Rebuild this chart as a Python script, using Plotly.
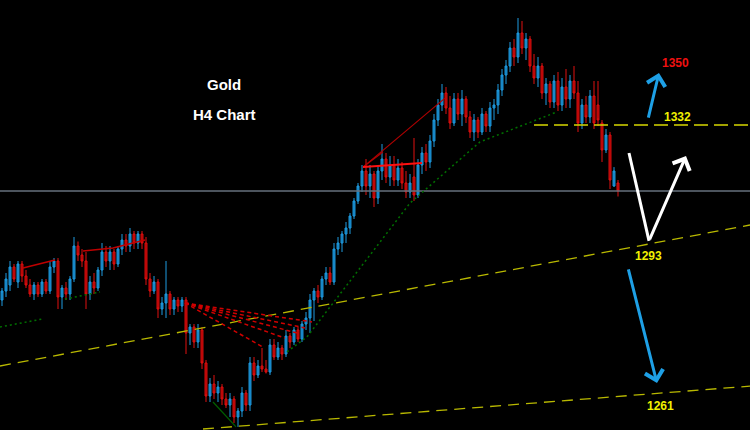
import plotly.graph_objects as go

# ---- candle data (index, price) ----
opens = [1275,1278,1280,1286,1281,1287,1283,1280,1277,1280,1277,1281,1278,1286,1288,1276,1279,1277,1282,1293,
         1290,1288,1277,1281,1279,1285,1291,1288,1291,1287,1292,1295,1293,1297,1294,1297,1294,1282,1278,1281,
         1272,1274,1277,1272,1275,1273,1275,1264,1266,1261,1265,1254,1243,1247,1244,1246,1242,1240,1242,1236,
         1238,1244,1240,1254,1250,1253,1252,1251,1260,1256,1259,1257,1263,1261,1265,1262,1267,1269,1275,1278,
         1276,1282,1284,1281,1292,1294,1297,1299,1303,1308,1313,1318,1313,1317,1309,1318,1322,1316,1320,1315,
         1319,1314,1311,1316,1310,1320,1324,1321,1328,1335,1340,1344,1339,1334,1342,1337,1342,1336,1331,1335,
         1331,1337,1333,1339,1340,1345,1350,1353,1359,1356,1364,1359,1362,1353,1349,1353,1344,1347,1341,1348,
         1340,1346,1342,1348,1344,1334,1340,1336,1343,1340,1334,1325,1330,1313,1314]
highs = [1279,1284,1288,1287,1288,1288,1285,1282,1281,1281,1282,1282,1288,1289,1289,1280,1281,1283,1296,1294.5,
         1292,1291,1283,1284,1286,1294,1293,1293,1292,1293,1297,1297,1299,1298,1298,1298,1296,1284,1283,1282,
         1276,1288,1278,1276,1276,1276,1276,1267,1267,1267,1266,1255,1249,1250,1248,1247,1244,1244,1243,1239,
         1246,1245,1256,1256,1255,1259,1255,1262,1262,1261,1260,1265,1264,1266,1266,1268,1271,1277,1279,1280,
         1283,1286,1286,1294,1296,1298,1301,1304,1309,1314,1320,1322,1320,1318,1320,1327,1324,1323,1323,1322,
         1321,1318,1317,1329,1322,1326,1327,1330,1337,1342,1347,1346,1343,1344,1344,1345,1343,1338,1337,1336,
         1339,1338,1341,1342,1347,1352,1355,1361,1362,1369,1368,1364,1363,1357,1356,1354,1349,1348,1350,1351,
         1349,1352,1350,1353,1348,1342,1343,1345,1348,1348,1335,1332,1331,1319.3,1315]
lows = [1273,1276,1278,1281,1279,1281,1279,1276,1275,1276,1276,1277,1277,1284,1272,1272,1275,1275,1281,1288,
        1286,1272,1275,1277,1278,1283,1286,1285,1285,1286,1290,1291,1291,1292,1292,1292,1280,1276,1277,1269,
        1270,1269,1270,1270,1271,1271,1257,1260,1259,1259,1252,1241,1241,1242,1241,1240,1239,1236,1234,1232.7,
        1236,1238,1238,1248,1249,1251,1250.5,1250,1255,1255,1255,1256,1259,1260,1261,1261,1265,1264,1268,1274,
        1275,1280,1280,1280,1290,1291,1294,1297,1302,1307,1311,1310,1309,1306,1307,1315,1314,1313,1313,1313,
        1312,1309,1309,1308,1309,1317,1318,1319,1326,1333,1338,1337,1332,1333,1335,1333,1334,1329,1328,1329,
        1330,1331,1331,1335,1337,1343,1347,1351,1353,1354,1357,1355,1351,1347,1346,1342,1340,1339,1339,1338,
        1338,1339,1339,1342,1331,1332,1334,1334,1332,1333,1321,1324,1312,1312.7,1309.5]
closes = [1278,1282,1286,1282,1287,1283,1280,1277,1280,1277,1281,1278,1286,1288,1276,1279,1277,1282,1293,1290,
          1288,1277,1281,1279,1285,1291,1288,1291,1287,1292,1295,1293,1297,1294,1297,1294,1282,1278,1281,1272,
          1274,1277,1272,1275,1273,1275,1264,1266,1261,1265,1254,1243,1247,1244,1246,1242,1240,1242,1236,1238,
          1244,1240,1254,1250,1253,1252,1251,1260,1256,1259,1257,1263,1261,1265,1262,1267,1269,1275,1278,1276,
          1282,1284,1281,1292,1294,1297,1299,1303,1308,1313,1318,1313,1317,1309,1318,1322,1316,1320,1315,1319,
          1314,1311,1314,1310,1320,1324,1321,1328,1335,1340,1344,1339,1334,1342,1337,1342,1336,1331,1335,1331,
          1337,1333,1339,1340,1345,1350,1353,1359,1356,1364,1359,1362,1353,1349,1353,1344,1347,1341,1348,1340,
          1346,1342,1348,1344,1334,1340,1336,1343,1334,1335,1325,1330,1315,1318,1311.3]
bar_index = list(range(len(closes)))

# ---- drawn lines ----
current_price = 1311.3
level_1332_x = [133, 187]
level_1332_y = [1333.3, 1333.3]
trend_mid_x = [-0.5, 187]
trend_mid_y = [1253.0, 1300.0]
trend_low_x = [50.25, 187]
trend_low_y = [1232.0, 1246.3]

green_a_x = [-0.5, 10.25]
green_a_y = [1266.0, 1268.7]
green_b_x = [15.75, 24.5]
green_b_y = [1275.3, 1277.7]
green_c_x = [52.75, 58.5]
green_c_y = [1241.0, 1232.7]
green_d_x = [71.25, 76.25, 102, 119.5, 138.75]
green_d_y = [1257.7, 1262.7, 1307.3, 1327.7, 1337.7]

red_a_x = [5.25, 13.25]
red_a_y = [1285.7, 1288.3]
red_b_x = [20.25, 27.75, 35.75]
red_b_y = [1291.3, 1292.3, 1295.0]
fan_origin = (45.75, 1274.0)
fan_end_x = [65.25, 70.75, 73.75, 75.75, 77.5]
fan_end_y = [1259.3, 1262.3, 1264.0, 1265.7, 1267.7]
red_c_origin = (90.25, 1319.3)
red_c_ends_x = [110.75, 95.25]
red_c_ends_y = [1342.3, 1324.3]
red_h_x = [90.25, 105]
red_h_y = [1319.3, 1320.7]

white_v_x = [156.75, 161.75, 171]
white_v_y = [1324.0, 1294.7, 1323.0]
blue_up_x = [161.5, 164.25]
blue_up_y = [1335.3, 1350.7]
blue_dn_x = [156.5, 163.75]
blue_dn_y = [1285.7, 1247.3]

labels = ["1350", "1332", "1293", "1261"]
label_x = [168.25, 168.75, 161.5, 164.5]
label_y = [1354.0, 1336.0, 1289.7, 1239.7]
label_colors = ["#F01010", "#F0F000", "#F0F000", "#F0F000"]

title_lines = ["Gold", "H4 Chart"]
title_x = [55.6, 55.6]
title_y = [1346.7, 1337.0]

X_RANGE = [-0.5, 187]
Y_RANGE = [1231.667, 1375]

fig = go.Figure()

def line(x, y, color, width, dash="solid"):
    fig.add_trace(go.Scatter(x=x, y=y, mode="lines", hoverinfo="skip",
                             line=dict(color=color, width=width, dash=dash)))

# gray current price line
line(X_RANGE, [current_price, current_price], "#66707C", 1.5)

# yellow levels
line(level_1332_x, level_1332_y, "#D8D800", 1.5, "14px,6px")
line(trend_mid_x, trend_mid_y, "#B8B800", 1.3, "11px,7px")
line(trend_low_x, trend_low_y, "#B8B800", 1.3, "11px,7px")

# green dotted
for gx, gy in [(green_a_x, green_a_y), (green_b_x, green_b_y), (green_d_x, green_d_y)]:
    line(gx, gy, "#007000", 1.5, "2px,3px")
line(green_c_x, green_c_y, "#006000", 1.2)

# red lines
line(red_a_x, red_a_y, "#C00000", 1.5)
line(red_b_x, red_b_y, "#C00000", 1.5)
for ex, ey in zip(fan_end_x, fan_end_y):
    line([fan_origin[0], ex], [fan_origin[1], ey], "#D00000", 1.5, "4px,3px")
for ex, ey in zip(red_c_ends_x, red_c_ends_y):
    line([red_c_origin[0], ex], [red_c_origin[1], ey], "#B00000", 1.2)
line(red_h_x, red_h_y, "#FF1010", 2)

# candles
fig.add_trace(go.Candlestick(
    x=bar_index, open=opens, high=highs, low=lows, close=closes,
    increasing=dict(line=dict(color="#1E9BE0", width=1), fillcolor="#1478B4"),
    decreasing=dict(line=dict(color="#E01010", width=1), fillcolor="#A00000"),
    whiskerwidth=0, hoverinfo="skip"))

# white V arrow
line(white_v_x[:2], white_v_y[:2], "#FFFFFF", 3)
annotations = []
annotations.append(dict(x=white_v_x[2], y=white_v_y[2], ax=white_v_x[1], ay=white_v_y[1],
                        xref="x", yref="y", axref="x", ayref="y", showarrow=True,
                        arrowhead=4, arrowsize=1.2, arrowwidth=3, arrowcolor="#FFFFFF", text=""))
for ax_, ay_ in [(blue_up_x, blue_up_y), (blue_dn_x, blue_dn_y)]:
    annotations.append(dict(x=ax_[1], y=ay_[1], ax=ax_[0], ay=ay_[0],
                            xref="x", yref="y", axref="x", ayref="y", showarrow=True,
                            arrowhead=4, arrowsize=1.2, arrowwidth=3, arrowcolor="#1EA0E6", text=""))
for t, lx, ly, c in zip(labels, label_x, label_y, label_colors):
    annotations.append(dict(x=lx, y=ly, text="<b>%s</b>" % t, showarrow=False,
                            font=dict(family="Liberation Sans, Arial", size=12, color=c)))
for t, lx, ly in zip(title_lines, title_x, title_y):
    annotations.append(dict(x=lx, y=ly, text="<b>%s</b>" % t, showarrow=False,
                            font=dict(family="Liberation Sans, Arial", size=15, color="#FFFFFF")))

fig.update_layout(
    width=750, height=430, margin=dict(l=0, r=0, t=0, b=0),
    paper_bgcolor="#000000", plot_bgcolor="#000000", showlegend=False,
    xaxis=dict(range=X_RANGE, visible=False, rangeslider=dict(visible=False), fixedrange=True),
    yaxis=dict(range=Y_RANGE, visible=False, fixedrange=True),
    annotations=annotations,
)

fig.write_html("out.html", config={"displayModeBar": False},
               post_script="document.body.style.margin='0';document.body.style.background='#000';")
